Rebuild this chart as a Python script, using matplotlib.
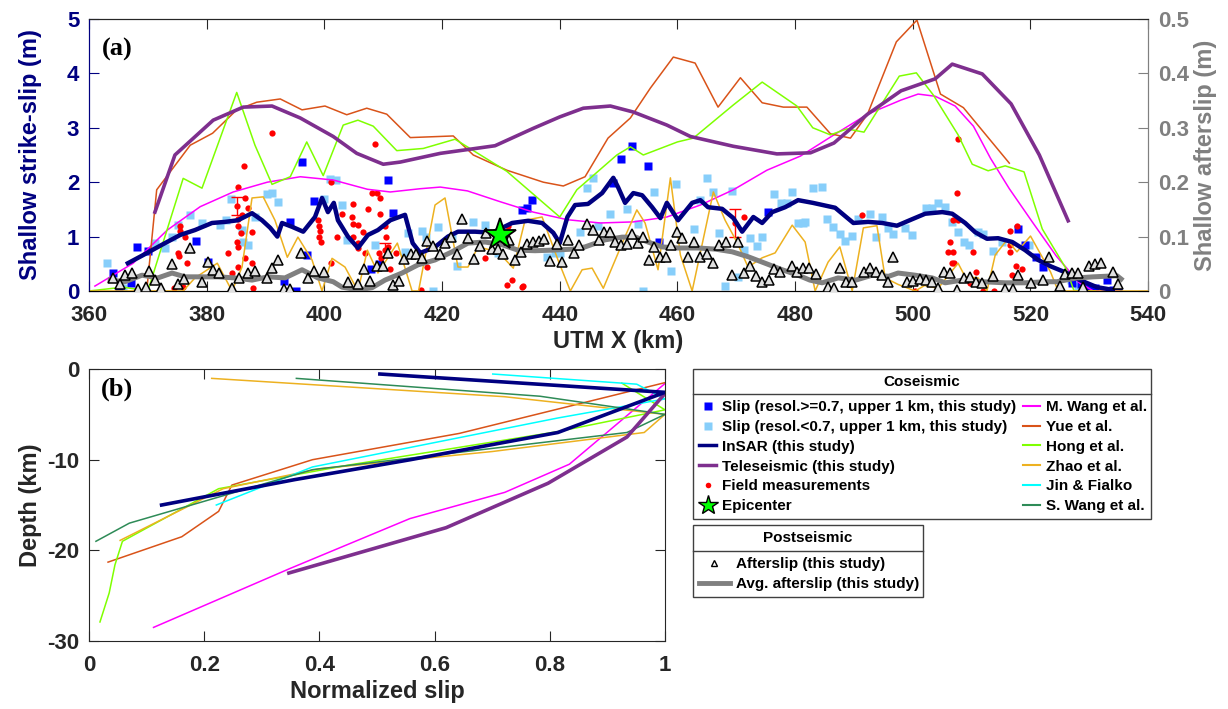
import matplotlib
matplotlib.use('Agg')
import matplotlib.pyplot as plt
from matplotlib.lines import Line2D
from matplotlib.patches import Rectangle
from matplotlib.ticker import FuncFormatter

plt.rcParams['font.family'] = ['Liberation Sans', 'DejaVu Sans']
plt.rcParams['font.weight'] = 'bold'
plt.rcParams['axes.labelweight'] = 'bold'
plt.rcParams['axes.unicode_minus'] = False

# ---------------- panel (a) data: along-strike shallow slip ----------------
tele_x = [371.2, 374.6, 381.1, 386.2, 391.1, 395.9, 401.5, 405.5, 410.0, 412.9, 419.7, 429.0,
          435.5, 440.0, 444.0, 448.6, 452.5, 458.2, 462.2, 469.5, 476.9, 482.6, 486.6, 492.3,
          498.0, 503.8, 506.7, 511.8, 516.7, 521.5, 526.4]
tele_y = [1.45, 2.5, 3.14, 3.38, 3.4, 3.18, 2.84, 2.53, 2.33, 2.37, 2.53, 2.67,
          2.99, 3.2, 3.36, 3.4, 3.29, 3.05, 2.84, 2.66, 2.52, 2.54, 2.72, 3.25,
          3.68, 3.9, 4.17, 3.99, 3.44, 2.5, 1.29]

yue_x = [369.8, 371.5, 377.2, 381.0, 385.1, 388.5, 392.5, 396.2, 400.1, 403.8, 407.2, 410.6,
         414.6, 421.9, 425.3, 431.0, 437.2, 440.6, 444.3, 448.2, 452.0, 455.4, 459.3, 463.0,
         466.9, 470.7, 474.4, 478.0, 482.0, 486.0, 489.4, 492.3, 497.2, 500.7, 504.7, 508.6, 516.4]
yue_y = [0.0, 1.86, 2.68, 2.9, 3.33, 3.47, 3.53, 3.33, 3.4, 3.24, 3.36, 3.25,
         2.82, 2.85, 2.5, 2.22, 2.0, 1.93, 2.1, 2.81, 3.18, 3.73, 4.3, 4.19,
         3.38, 3.92, 3.46, 3.38, 3.38, 2.89, 2.81, 3.25, 4.58, 4.98, 3.62, 3.37, 2.35]

hong_x = [360.0, 365.8, 370.0, 376.0, 379.2, 385.1, 388.2, 391.1, 394.2, 397.0, 399.8, 403.2,
          405.7, 408.3, 412.3, 416.8, 422.2, 431.0, 440.0, 442.9, 449.7, 452.0, 454.2, 460.0,
          462.7, 469.5, 474.4, 480.3, 483.0, 486.0, 488.8, 491.7, 497.7, 500.6, 503.5, 507.7,
          510.1, 512.8, 515.7, 518.9, 522.0, 526.1, 527.4, 531.0]
hong_y = [0.0, 0.07, 0.0, 2.07, 1.89, 3.65, 2.68, 1.96, 2.1, 2.74, 2.12, 3.05,
          3.14, 3.03, 2.58, 2.62, 2.79, 2.2, 1.36, 1.86, 2.5, 2.65, 2.5, 2.74,
          2.81, 3.42, 3.84, 3.4, 3.0, 2.87, 2.98, 2.92, 3.95, 4.01, 3.6, 2.87,
          2.33, 2.21, 2.3, 2.19, 1.14, 0.4, 0.0, 0.0]

mwang_x = [361.0, 367.5, 373.3, 378.9, 384.5, 390.3, 395.9, 401.5, 407.3, 411.2, 416.3, 419.7,
           424.3, 429.9, 435.5, 441.3, 446.9, 452.5, 458.2, 463.9, 469.5, 475.2, 480.9, 486.6,
           492.3, 498.0, 500.9, 503.8, 507.2, 510.3, 513.2, 516.4, 520.3, 524.4, 528.3, 530.7, 535.0]
mwang_y = [0.09, 0.51, 1.12, 1.55, 1.82, 2.0, 2.1, 2.04, 1.87, 1.82, 1.88, 1.91,
           1.84, 1.64, 1.45, 1.31, 1.25, 1.27, 1.36, 1.58, 1.86, 2.22, 2.48, 2.87,
           3.25, 3.51, 3.62, 3.58, 3.4, 3.03, 2.44, 1.88, 1.27, 0.64, 0.15, 0.0, 0.0]

zhao_x = [360.0, 376.0, 378.0, 381.8, 384.3, 386.0, 387.7, 389.6, 391.6, 393.7, 395.5, 397.9,
          399.6, 401.3, 403.5, 405.7, 407.3, 409.1, 412.4, 414.9, 416.0, 418.8, 420.5, 422.7,
          424.4, 426.1, 429.5, 432.1, 434.1, 437.0, 439.7, 441.8, 443.8, 445.5, 447.4, 451.1,
          453.1, 454.5, 456.7, 458.8, 460.5, 462.5, 466.1, 468.1, 470.1, 472.0, 474.4, 476.6,
          479.5, 481.7, 483.4, 485.6, 487.6, 489.7, 491.6, 493.9, 495.3, 497.5, 500.4, 502.0,
          504.3, 507.7, 508.9, 511.1, 512.6, 514.0, 516.0, 517.7, 520.0, 523.4, 524.7, 540.0]
zhao_y = [0.0, 0.0, 0.24, 0.51, 0.0, 0.44, 1.71, 1.73, 1.3, 0.62, 0.99, 0.57,
          0.0, 0.6, 0.44, 0.0, 0.75, 0.33, 0.88, 0.0, 0.0, 1.58, 1.71, 0.44,
          0.44, 0.81, 0.72, 0.42, 1.3, 1.36, 0.57, 0.0, 0.39, 0.42, 0.05, 1.0,
          1.49, 1.25, 0.39, 2.08, 0.66, 0.0, 1.82, 1.3, 0.9, 0.44, 0.61, 0.7,
          1.21, 0.9, 0.0, 0.53, 0.81, 0.0, 1.16, 1.2, 0.24, 0.12, 0.0, 0.1,
          0.05, 0.51, 0.26, 0.24, 0.0, 0.66, 0.94, 0.72, 1.01, 0.35, 0.0, 0.0]

insar_x = [366.6, 369.2, 372.4, 375.5, 378.0, 380.9, 383.1, 385.3, 387.7, 389.4, 390.8, 392.0,
           392.8, 394.5, 396.4, 398.4, 399.6, 400.6, 401.6, 402.3, 404.0, 405.7, 407.4, 409.1,
           411.2, 413.7, 415.0, 416.3, 418.7, 421.0, 422.7, 425.6, 428.5, 431.9, 434.6, 437.0,
           438.9, 440.0, 441.3, 442.6, 444.8, 447.2, 449.1, 449.9, 451.1, 452.5, 454.0, 455.7,
           457.1, 458.2, 460.1, 462.5, 463.9, 465.2, 467.6, 469.5, 471.0, 472.9, 474.4, 476.1,
           478.3, 480.5, 483.0, 486.8, 489.9, 492.4, 494.8, 497.3, 499.9, 502.1, 505.0, 506.7,
           508.9, 510.6, 512.6, 514.5, 516.9, 519.1, 521.3, 523.5, 526.2, 528.4, 531.3, 534.0]
insar_y = [0.51, 0.66, 0.85, 1.03, 1.12, 1.25, 1.27, 1.3, 1.43, 1.3, 1.16, 1.0,
           1.25, 1.18, 1.09, 1.36, 1.71, 1.45, 1.62, 1.3, 1.0, 0.79, 1.03, 1.12,
           1.3, 1.4, 0.88, 0.7, 0.8, 1.0, 1.09, 1.09, 1.07, 1.25, 1.29, 1.25,
           1.07, 0.88, 1.36, 1.58, 1.6, 1.8, 2.08, 1.91, 1.62, 1.8, 1.76, 1.54,
           1.34, 1.62, 1.3, 1.62, 1.67, 1.54, 1.51, 1.34, 1.09, 1.36, 1.25, 1.45,
           1.54, 1.67, 1.62, 1.53, 1.25, 1.27, 1.25, 1.2, 1.32, 1.42, 1.45, 1.42,
           1.25, 1.08, 0.96, 0.97, 0.9, 0.75, 0.57, 0.45, 0.33, 0.2, 0.07, 0.02]

# average afterslip (right axis, m)
avg_x = [363.6, 366.1, 369.0, 371.7, 374.1, 376.3, 379.2, 381.9, 384.8, 387.7, 390.4, 393.3,
         396.2, 398.9, 401.5, 403.0, 405.7, 408.1, 410.3, 413.2, 415.9, 418.8, 421.7, 424.4,
         427.3, 430.2, 432.9, 435.8, 438.6, 442.3, 444.3, 447.7, 450.6, 452.9, 455.0, 457.4,
         460.1, 463.5, 466.4, 469.3, 472.0, 474.9, 477.8, 480.5, 482.5, 484.6, 487.3, 490.3,
         493.1, 495.9, 497.5, 500.4, 503.3, 505.5, 508.4, 511.8, 515.7, 519.1, 522.5, 524.5,
         527.9, 530.7, 534.7, 535.4]
avg_y = [0.020, 0.017, 0.029, 0.024, 0.033, 0.026, 0.026, 0.026, 0.024, 0.020, 0.026, 0.024,
         0.039, 0.024, 0.017, 0.007, 0.002, 0.006, 0.020, 0.033, 0.048, 0.057, 0.072, 0.088,
         0.090, 0.085, 0.075, 0.074, 0.075, 0.077, 0.081, 0.094, 0.099, 0.099, 0.090, 0.081,
         0.079, 0.079, 0.077, 0.072, 0.063, 0.051, 0.039, 0.029, 0.020, 0.015, 0.024, 0.020,
         0.029, 0.027, 0.033, 0.029, 0.024, 0.015, 0.020, 0.017, 0.015, 0.015, 0.017, 0.017,
         0.024, 0.026, 0.028, 0.022]

after_x = [364.1, 365.3, 366.1, 367.3, 368.3, 369.6, 370.2, 371.2, 372.2, 374.1, 375.1, 376.1,
           377.2, 379.2, 380.2, 381.1, 382.1, 384.3, 385.5, 387.0, 388.2, 390.2, 391.1, 392.1,
           393.1, 394.2, 396.0, 397.2, 398.2, 400.0, 404.0, 405.7, 406.7, 407.8, 409.0, 410.0,
           410.8, 411.7, 412.7, 413.5, 414.7, 415.5, 416.6, 417.5, 418.5, 419.7, 420.5, 421.5,
           422.5, 423.4, 424.4, 425.4, 426.5, 427.5, 428.5, 429.5, 430.4, 431.4, 432.4, 433.4,
           434.5, 435.5, 436.5, 437.3, 438.4, 439.5, 440.4, 441.4, 442.4, 443.3, 444.6, 445.7,
           446.7, 447.6, 448.6, 449.4, 450.4, 451.4, 452.3, 453.3, 454.2, 455.2, 456.0, 457.1,
           458.0, 458.9, 459.9, 460.8, 461.8, 462.8, 463.9, 465.0, 466.1, 467.1, 468.3, 469.3,
           470.3, 471.3, 472.4, 473.4, 474.4, 475.6, 476.4, 477.5, 479.5, 480.4, 481.4, 482.4,
           483.6, 485.6, 486.6, 487.7, 488.7, 489.6, 491.7, 492.8, 493.8, 494.8, 495.8, 496.7,
           499.0, 500.0, 501.2, 502.2, 503.3, 504.3, 505.3, 506.3, 507.5, 508.7, 509.7, 510.8,
           511.8, 513.7, 515.7, 517.0, 517.9, 520.1, 522.2, 523.2, 525.0, 525.9, 527.0, 528.1,
           529.0, 530.0, 531.0, 532.0, 534.0, 534.9]
after_y = [0.024, 0.013, 0.029, 0.033, 0.004, 0.007, 0.037, 0.020, 0.006, 0.050, 0.013, 0.022,
           0.079, 0.017, 0.053, 0.039, 0.033, 0.006, 0.024, 0.033, 0.037, 0.024, 0.042, 0.057,
           0.004, 0.004, 0.070, 0.024, 0.037, 0.035, 0.017, 0.013, 0.040, 0.018, 0.046, 0.046,
           0.070, 0.011, 0.018, 0.059, 0.068, 0.068, 0.061, 0.092, 0.083, 0.068, 0.088, 0.099,
           0.068, 0.132, 0.097, 0.059, 0.083, 0.107, 0.077, 0.077, 0.068, 0.094, 0.057, 0.072,
           0.086, 0.090, 0.092, 0.096, 0.055, 0.086, 0.053, 0.094, 0.070, 0.084, 0.123, 0.112,
           0.094, 0.108, 0.108, 0.090, 0.085, 0.086, 0.105, 0.088, 0.099, 0.057, 0.081, 0.063,
           0.063, 0.085, 0.108, 0.097, 0.063, 0.090, 0.063, 0.068, 0.051, 0.085, 0.090, 0.029,
           0.090, 0.033, 0.046, 0.028, 0.017, 0.020, 0.040, 0.035, 0.046, 0.035, 0.042, 0.042,
           0.031, 0.007, 0.006, 0.042, 0.017, 0.017, 0.035, 0.042, 0.035, 0.029, 0.017, 0.063,
           0.017, 0.019, 0.022, 0.020, 0.017, 0.006, 0.035, 0.033, 0.002, 0.024, 0.026, 0.017,
           0.015, 0.028, 0.004, 0.004, 0.029, 0.015, 0.020, 0.063, 0.009, 0.031, 0.033, 0.033,
           0.007, 0.046, 0.050, 0.051, 0.035, 0.013]

field_x = [374.5, 375.5, 375.5, 376.3, 375.1, 375.3, 376.7, 383.6, 384.3, 385.2, 385.3, 385.3,
           385.3, 385.3, 385.9, 386.0, 386.3, 386.5, 386.5, 386.8, 385.3, 387.0, 387.7, 387.7,
           387.9, 391.1, 398.9, 399.1, 399.2, 399.1, 399.4, 401.1, 401.2, 402.2, 403.0, 404.7,
           404.8, 404.8, 404.9, 405.7, 405.7, 405.7, 406.6, 406.9, 407.4, 408.1, 408.6, 408.9,
           409.2, 409.4, 409.5, 409.7, 410.3, 410.4, 410.8, 411.2, 412.2, 416.4, 417.4, 427.3,
           431.2, 431.0, 431.9, 433.6, 433.8, 471.3, 491.4, 500.4, 506.0, 506.3, 506.7, 506.8,
           506.9, 507.0, 507.5, 507.7, 507.7, 509.8, 510.3, 510.8, 511.9, 513.8, 516.5, 516.5,
           516.6, 516.8, 517.5, 517.7, 518.6, 524.9, 376.0]
field_y = [0.05, 1.19, 1.1, 1.0, 0.7, 0.65, 0.51, 0.7, 0.33, 0.9, 1.91, 1.32,
           1.2, 0.8, 1.06, 1.4, 2.3, 1.71, 0.6, 0.26, 0.44, 1.53, 1.08, 0.51,
           0.05, 2.9, 1.3, 1.2, 1.1, 1.0, 0.9, 2.0, 0.51, 1.0, 1.42, 1.36,
           1.23, 1.0, 1.6, 1.21, 0.88, 0.79, 1.08, 0.7, 1.5, 1.8, 2.7, 1.8,
           0.7, 1.42, 1.71, 0.6, 1.19, 1.0, 0.81, 0.4, 0.7, 0.02, 0.44, 0.6,
           1.19, 0.11, 0.2, 0.07, 0.09, 1.36, 1.4, 0.0, 0.72, 0.9, 0.51, 0.72,
           1.3, 0.51, 1.8, 2.8, 1.3, 0.14, 0.72, 0.35, 0.0, 0.0, 0.85, 0.72,
           1.1, 0.3, 0.46, 1.2, 0.4, 0.0, 0.08]
ferr_x = [385.1, 410.3, 469.8]
ferr_y = [1.56, 0.75, 1.25]
ferr_e = [0.16, 0.13, 0.25]

hires_x = [364.1, 365.1, 367.2, 368.2, 370.1, 378.2, 380.2, 393.1, 394.2, 395.1, 396.2, 397.1,
           398.2, 407.9, 409.3, 410.8, 411.7, 433.6, 434.5, 435.3, 449.1, 450.4, 452.3, 455.0,
           456.9, 475.4, 517.9, 519.1, 520.9, 522.2, 527.1, 528.5, 529.8, 531.0, 533.0, 534.0, 534.9]
hires_y = [0.33, 0.0, 0.14, 0.81, 0.74, 0.92, 0.54, 0.19, 1.27, 0.0, 2.38, 0.66,
           1.65, 0.4, 0.5, 2.04, 1.43, 1.49, 1.52, 1.67, 1.99, 2.43, 2.67, 2.3,
           0.9, 1.45, 1.14, 0.85, 0.63, 0.44, 0.15, 0.12, 0.07, 0.05, 0.2, 0.02, 0.0]

lores_x = [363.1, 365.7, 371.2, 372.9, 374.1, 375.1, 377.2, 379.2, 382.3, 383.3, 384.2, 386.0,
           386.2, 387.0, 388.2, 390.3, 391.1, 392.1, 400.0, 401.0, 402.0, 403.0, 403.9, 405.7,
           408.6, 413.7, 414.2, 416.6, 417.3, 418.4, 419.3, 421.7, 422.6, 425.2, 427.3, 429.5,
           430.7, 437.8, 439.2, 440.0, 443.5, 444.7, 445.7, 446.5, 448.6, 451.4, 453.3, 454.2,
           456.0, 458.9, 459.8, 462.8, 463.9, 465.0, 466.1, 467.1, 468.1, 469.3, 470.3, 471.3,
           472.4, 473.5, 474.4, 476.4, 477.6, 478.6, 479.5, 480.5, 481.4, 483.0, 484.6, 481.7,
           485.4, 486.5, 487.7, 488.5, 489.7, 490.7, 492.8, 493.8, 494.8, 495.8, 496.7, 498.7,
           499.9, 502.3, 503.3, 504.3, 505.5, 506.7, 507.7, 508.7, 509.6, 511.1, 511.9, 513.7,
           515.2, 519.8, 526.8, 528.0, 529.5]
lores_y = [0.51, 0.05, 0.88, 0.79, 1.0, 1.21, 1.4, 1.25, 1.21, 1.3, 1.69, 1.12,
           0.9, 0.85, 1.36, 1.78, 1.8, 1.63, 1.7, 2.05, 2.04, 1.58, 0.94, 0.0,
           0.85, 0.72, 1.07, 1.1, 1.0, 0.0, 1.18, 0.97, 0.46, 1.27, 1.21, 0.7,
           1.07, 0.63, 0.7, 0.7, 1.08, 1.89, 2.08, 1.19, 1.42, 1.51, 1.23, 0.0,
           1.82, 0.37, 1.97, 1.14, 1.67, 2.08, 1.82, 1.07, 0.09, 1.84, 0.26, 0.75,
           0.97, 0.83, 0.99, 1.78, 1.62, 1.62, 1.82, 1.25, 1.25, 1.89, 1.91, 1.27,
           1.32, 1.18, 1.05, 0.92, 1.01, 1.32, 1.42, 0.99, 1.36, 1.16, 1.05, 1.16,
           1.03, 1.53, 1.53, 1.62, 1.54, 1.27, 1.08, 0.9, 0.85, 1.08, 1.05, 0.74,
           0.9, 0.85, 0.2, 0.1, 0.0]

epi_x = 429.9
epi_y = 1.03

# ---------------- panel (b) data: normalized slip vs depth ----------------
b_insar_v = [0.505, 1.0, 0.814, 0.558, 0.357, 0.126]
b_insar_d = [-0.55, -2.57, -7.0, -10.0, -12.2, -15.0]
b_tele_v = [1.0, 0.934, 0.797, 0.62, 0.347]
b_tele_d = [-2.7, -7.5, -12.6, -17.5, -22.5]
b_mwang_v = [1.0, 0.834, 0.722, 0.557, 0.349, 0.112]
b_mwang_d = [-1.6, -10.5, -13.6, -16.5, -22.0, -28.5]
b_yue_v = [1.0, 0.643, 0.388, 0.248, 0.225, 0.161, 0.033]
b_yue_d = [-1.5, -7.1, -10.0, -12.8, -15.7, -18.5, -21.3]
b_hong_v = [0.925, 1.0, 0.814, 0.45, 0.225, 0.058, 0.045, 0.035, 0.019]
b_hong_d = [-1.55, -4.5, -6.9, -10.6, -13.2, -19.0, -21.6, -24.7, -27.9]
b_zhao_v = [0.213, 0.721, 1.0, 0.964, 0.70, 0.40, 0.233, 0.054]
b_zhao_d = [-1.03, -3.05, -5.0, -7.0, -9.1, -11.0, -13.2, -18.9]
b_jin_v = [0.701, 0.951, 1.0, 0.814, 0.388, 0.221]
b_jin_d = [-0.55, -1.67, -3.3, -5.4, -10.8, -15.0]
b_swang_v = [0.36, 0.783, 1.0, 0.934, 0.388, 0.07, 0.012]
b_swang_d = [-1.03, -3.0, -5.0, -7.0, -11.1, -17.0, -19.0]

# colours
NAVY = '#000080'
PURPLE = '#7E2F8E'
C_MW = '#FF00FF'
C_YUE = '#D95319'
C_HONG = '#7FFF00'
C_ZHAO = '#EDB120'
C_JIN = '#00FFFF'
C_SW = '#2E8B57'
GRAY = '#808080'
TXT = '#262626'
EDGE = '#404040'

W, H = 1228, 709
fmt = FuncFormatter(lambda v, p: '%g' % v)

fig = plt.figure(figsize=(W / 100, H / 100), dpi=100)

# ---------------- panel (a) ----------------
ax = fig.add_axes([0.0725, 0.5896, 0.8625, 0.3836])
ax.plot(lores_x, lores_y, 's', color='#87CEFA', ms=6, mec='none', zorder=2)
ax.plot(hires_x, hires_y, 's', color='#0000FF', ms=6, mec='none', zorder=2)
ax.plot(field_x, field_y, 'o', color='red', ms=4.5, mec='none', zorder=3)
ax.errorbar(ferr_x, ferr_y, yerr=ferr_e, fmt='o', color='red', ms=4.5, mec='none',
            elinewidth=1, capsize=4, zorder=3)
ax.plot(mwang_x, mwang_y, color=C_MW, lw=1.1, zorder=4)
ax.plot(yue_x, yue_y, color=C_YUE, lw=1.1, zorder=4)
ax.plot(hong_x, hong_y, color=C_HONG, lw=1.1, zorder=4)
ax.plot(zhao_x, zhao_y, color=C_ZHAO, lw=1.1, zorder=4)
ax.plot(tele_x, tele_y, color=PURPLE, lw=2.6, zorder=5)
ax.plot(insar_x, insar_y, color=NAVY, lw=3.2, zorder=6)

ax.set_xlim(360, 540)
ax.set_ylim(0, 5)
ax.set_xticks(range(360, 541, 20))
ax.set_yticks(range(0, 6))
ax.xaxis.set_major_formatter(fmt)
ax.tick_params(axis='x', direction='in', length=7, top=True, labelsize=16, colors=TXT, pad=10)
ax.tick_params(axis='y', direction='in', length=7, labelsize=16, colors=NAVY, pad=7)
ax.spines['left'].set_color(NAVY)
ax.spines['bottom'].set_color(TXT)
ax.spines['top'].set_color(TXT)
ax.spines['right'].set_color(GRAY)
ax.set_xlabel('UTM X (km)', fontsize=17, color=TXT, labelpad=3)
ax.set_ylabel('Shallow strike-slip (m)', fontsize=17, color=NAVY, labelpad=18)
ax.text(0.012, 0.93, '(a)', transform=ax.transAxes, fontsize=19, fontweight='bold',
        family='Liberation Serif', va='top', color='black')

ax2 = ax.twinx()
ax2.plot(avg_x, avg_y, color=GRAY, lw=3.6, zorder=5)
ax2.plot(after_x, after_y, '^', mfc='#E0E0E0', mec='black', ms=7, mew=1.1, zorder=6)
# epicenter drawn on the afterslip axes so it sits on top (left axis value / 10)
ax2.plot(epi_x, epi_y / 10, '*', color='#00FF00', mec='black', ms=24, mew=1.3, zorder=7)
ax2.set_ylim(0, 0.5)
ax2.set_yticks([0, 0.1, 0.2, 0.3, 0.4, 0.5])
ax2.yaxis.set_major_formatter(fmt)
ax2.tick_params(axis='y', direction='in', length=7, labelsize=16, colors=GRAY, pad=7)
ax2.spines['right'].set_color(GRAY)
ax2.spines['left'].set_color(NAVY)
ax2.spines['top'].set_color(TXT)
ax2.set_ylabel('Shallow afterslip (m)', fontsize=17, color=GRAY, labelpad=4)

# ---------------- panel (b) ----------------
bx = fig.add_axes([0.0725, 0.0959, 0.469, 0.3836])
bx.plot(b_mwang_v, b_mwang_d, color=C_MW, lw=1.1)
bx.plot(b_yue_v, b_yue_d, color=C_YUE, lw=1.1)
bx.plot(b_hong_v, b_hong_d, color=C_HONG, lw=1.1)
bx.plot(b_zhao_v, b_zhao_d, color=C_ZHAO, lw=1.1)
bx.plot(b_jin_v, b_jin_d, color=C_JIN, lw=1.1)
bx.plot(b_swang_v, b_swang_d, color=C_SW, lw=1.1)
bx.plot(b_tele_v, b_tele_d, color=PURPLE, lw=2.6)
bx.plot(b_insar_v, b_insar_d, color=NAVY, lw=2.6)
bx.set_xlim(0, 1)
bx.set_ylim(-30, 0)
bx.set_xticks([0, 0.2, 0.4, 0.6, 0.8, 1])
bx.set_yticks([-30, -20, -10, 0])
bx.xaxis.set_major_formatter(fmt)
bx.tick_params(axis='x', direction='in', length=7, top=True, labelsize=16, colors=TXT, pad=10)
bx.tick_params(axis='y', direction='in', length=7, right=True, labelsize=16, colors=TXT, pad=7)
for s in bx.spines.values():
    s.set_color(TXT)
bx.set_xlabel('Normalized slip', fontsize=17, color=TXT, labelpad=3)
bx.set_ylabel('Depth (km)', fontsize=17, color=TXT, labelpad=4)
bx.text(0.02, 0.97, '(b)', transform=bx.transAxes, fontsize=19, fontweight='bold',
        family='Liberation Serif', va='top', color='black')

# ---------------- legends (MATLAB-style boxes with a header row) ----------------
co_handles = [
    Line2D([], [], ls='none', marker='s', color='#0000FF', mec='none', ms=6),
    Line2D([], [], ls='none', marker='s', color='#87CEFA', mec='none', ms=6),
    Line2D([], [], color=NAVY, lw=2.5),
    Line2D([], [], color=PURPLE, lw=2.5),
    Line2D([], [], ls='none', marker='o', color='red', mec='none', ms=4),
    Line2D([], [], ls='none', marker='*', color='#00FF00', mec='black', ms=15, mew=1),
    Line2D([], [], color=C_MW, lw=1.5),
    Line2D([], [], color=C_YUE, lw=1.5),
    Line2D([], [], color=C_HONG, lw=1.5),
    Line2D([], [], color=C_ZHAO, lw=1.5),
    Line2D([], [], color=C_JIN, lw=1.5),
    Line2D([], [], color=C_SW, lw=1.5),
]
co_labels = ['Slip (resol.>=0.7, upper 1 km, this study)',
             'Slip (resol.<0.7, upper 1 km, this study)',
             'InSAR (this study)', 'Teleseismic (this study)',
             'Field measurements', 'Epicenter',
             'M. Wang et al.', 'Yue et al.', 'Hong et al.', 'Zhao et al.',
             'Jin & Fialko', 'S. Wang et al.']
post_handles = [
    Line2D([], [], ls='none', marker='^', mfc='white', mec='black', ms=5, mew=1),
    Line2D([], [], color=GRAY, lw=3.5),
]
post_labels = ['Afterslip (this study)', 'Avg. afterslip (this study)']

leg_kw = dict(loc='upper left', borderaxespad=0, frameon=False,
              handletextpad=0.4, labelspacing=0.38, borderpad=0.4,
              prop={'size': 11, 'weight': 'bold'})
leg1 = fig.legend(co_handles, co_labels, ncol=2, columnspacing=0.45, handlelength=1.1,
                  bbox_to_anchor=(693 / W, 1 - 394 / H), **leg_kw)
leg2 = fig.legend(post_handles, post_labels, handlelength=2.0,
                  bbox_to_anchor=(693 / W, 1 - 551 / H), **leg_kw)

fig.canvas.draw()
for lg, title, top, div in ((leg1, 'Coseismic', 369, 394), (leg2, 'Postseismic', 525, 551)):
    bb = lg.get_window_extent()
    x0, x1 = 693 / W, (bb.x1 - 2) / W
    y1, y0 = 1 - top / H, bb.y0 / H
    fig.add_artist(Rectangle((x0, y0), x1 - x0, y1 - y0, transform=fig.transFigure,
                             fill=False, edgecolor=EDGE, lw=1.0))
    fig.add_artist(Line2D([x0, x1], [1 - div / H] * 2, transform=fig.transFigure,
                          color=EDGE, lw=1.0))
    fig.text((x0 + x1) / 2, 1 - (top + div) / 2 / H, title, ha='center', va='center',
             fontsize=11, fontweight='bold', color='black')

fig.savefig('out.png', dpi=100)
